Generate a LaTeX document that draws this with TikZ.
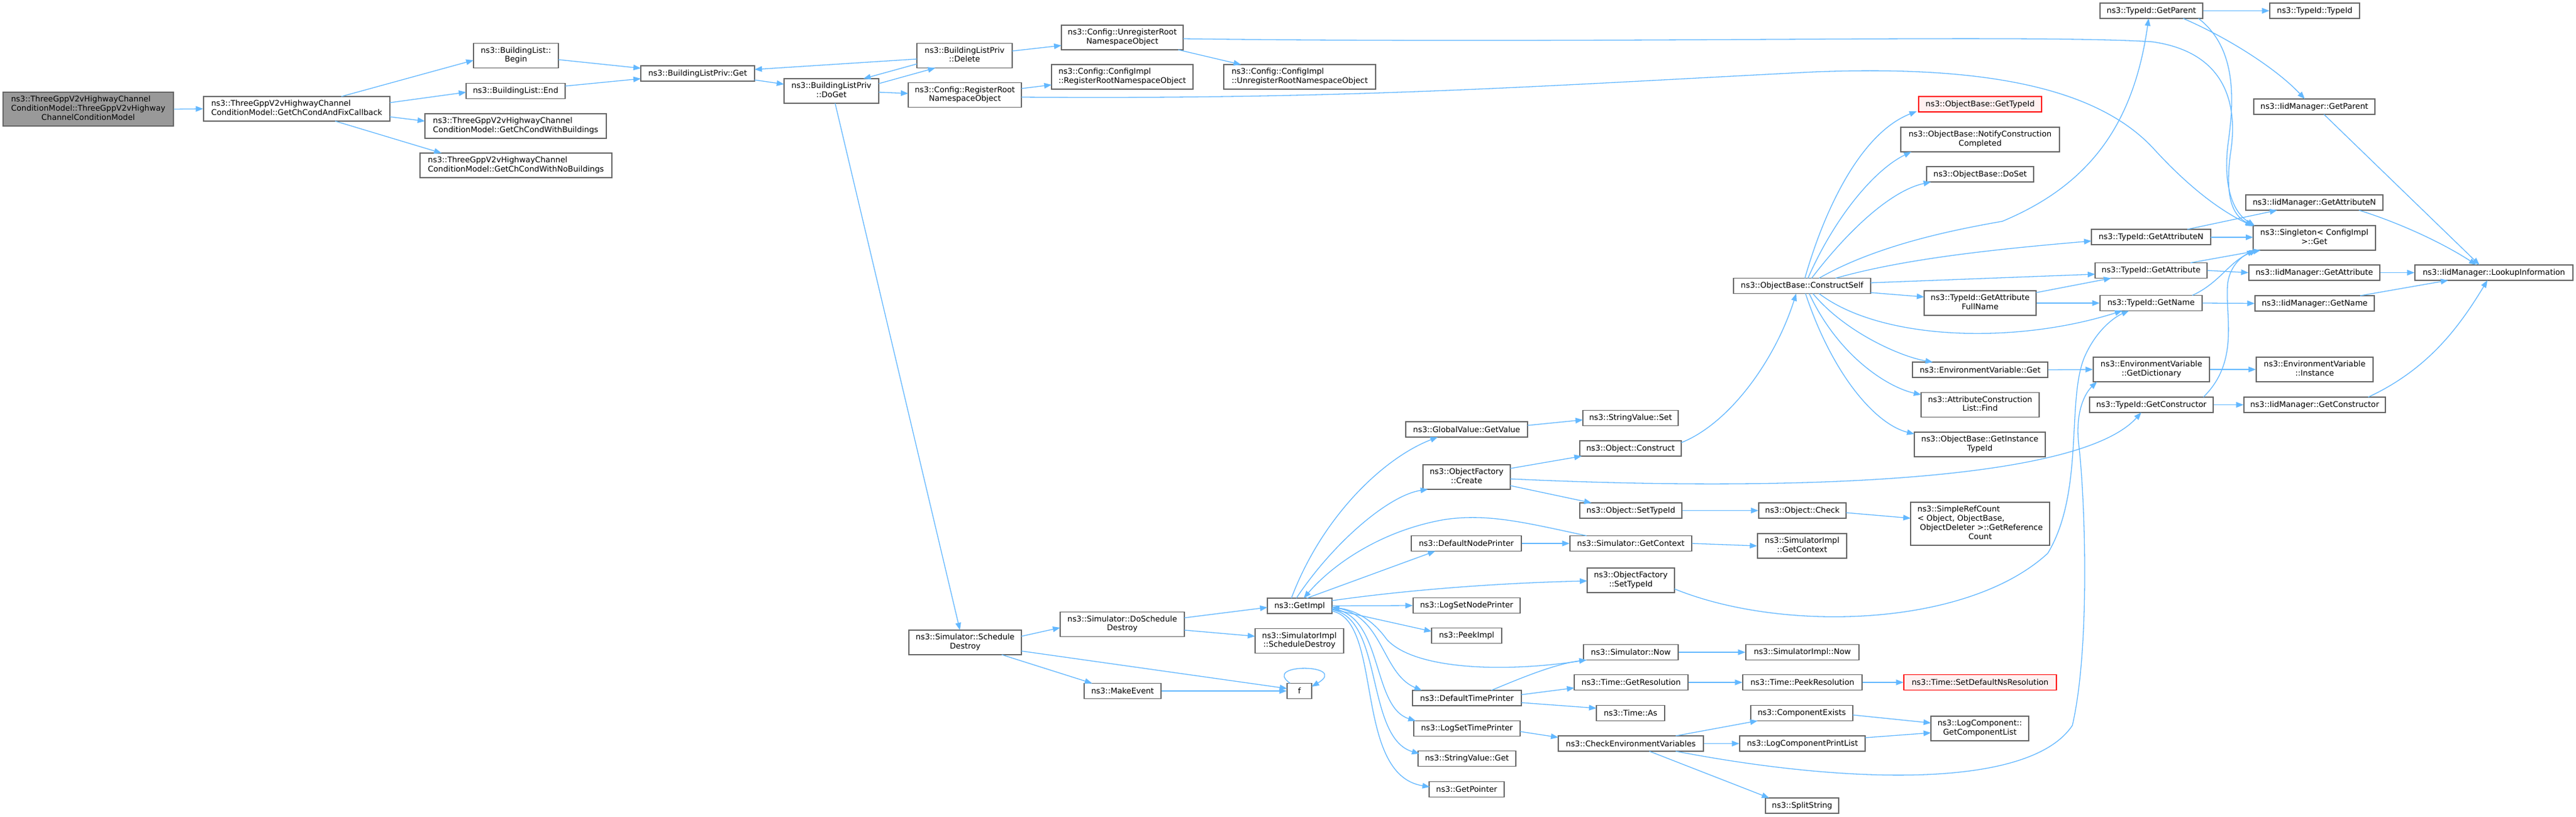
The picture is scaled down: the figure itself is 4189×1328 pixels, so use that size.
\documentclass[tikz,border=0pt]{standalone}
\usepackage{fontspec}
\setmainfont{DejaVu Sans}
\usetikzlibrary{arrows.meta}
\definecolor{edgeblue}{HTML}{63B8FF}
\definecolor{bordergray}{HTML}{666666}
\definecolor{rootfill}{HTML}{999999}
\definecolor{redborder}{HTML}{FF0000}
\definecolor{redfill}{HTML}{FFF0F0}
\newcommand\twol[2]{\begin{tabular}{@{}l@{}}#1\\\multicolumn{1}{@{}c@{}}{#2}\end{tabular}}
\newcommand\threel[3]{\begin{tabular}{@{}l@{}}#1\\#2\\\multicolumn{1}{@{}c@{}}{#3}\end{tabular}}
\newcommand\fourl[4]{\begin{tabular}{@{}l@{}}#1\\#2\\#3\\\multicolumn{1}{@{}c@{}}{#4}\end{tabular}}
\begin{document}
\begin{tikzpicture}[x=1pt,y=-1pt,
 nd/.style={draw=bordergray, fill=white, line width=1.2pt, inner sep=0pt, font=\fontsize{12.8}{14.7}\selectfont},
 oneline/.style={minimum height=25},
 twoline/.style={minimum height=40},
 redn/.style={draw=redborder, fill=redfill},
 rootn/.style={fill=rootfill},
 conn/.style={draw=edgeblue, line width=1.3pt, -{Triangle[length=12pt,width=9pt]}}]
\useasboundingbox (0,0) rectangle (4189,1328);
\fill[white] (0,0) rectangle (4189,1328);

\node[nd,rootn,minimum width=277,minimum height=55] (root) at (143.5,177.5) {\threel{ns3::ThreeGppV2vHighwayChannel}{ConditionModel::ThreeGppV2vHighway}{ChannelConditionModel}};
\node[nd,twoline,minimum width=303] (cb) at (482.5,177) {\twol{ns3::ThreeGppV2vHighwayChannel}{ConditionModel::GetChCondAndFixCallback}};
\node[nd,twoline,minimum width=138] (blbegin) at (839,90.5) {\twol{ns3::BuildingList::}{Begin}};
\node[nd,oneline,minimum width=161] (blend) at (838.5,148) {ns3::BuildingList::End};
\node[nd,twoline,minimum width=295] (withb) at (838.5,205) {\twol{ns3::ThreeGppV2vHighwayChannel}{ConditionModel::GetChCondWithBuildings}};
\node[nd,twoline,minimum width=312] (nob) at (839,269) {\twol{ns3::ThreeGppV2vHighwayChannel}{ConditionModel::GetChCondWithNoBuildings}};
\node[nd,oneline,minimum width=185] (privget) at (1134.5,119.5) {ns3::BuildingListPriv::Get};
\node[nd,twoline,minimum width=154] (doget) at (1352,148) {\twol{ns3::BuildingListPriv}{::DoGet}};
\node[nd,twoline,minimum width=155] (delete) at (1568.5,90.5) {\twol{ns3::BuildingListPriv}{::Delete}};
\node[nd,twoline,minimum width=184] (cfgreg) at (1569,154.5) {\twol{ns3::Config::RegisterRoot}{NamespaceObject}};
\node[nd,twoline,minimum width=198] (cfgunreg) at (1825,61) {\twol{ns3::Config::UnregisterRoot}{NamespaceObject}};
\node[nd,twoline,minimum width=230] (implreg) at (1825,125) {\twol{ns3::Config::ConfigImpl}{::RegisterRootNamespaceObject}};
\node[nd,twoline,minimum width=247] (implunreg) at (2113.5,125) {\twol{ns3::Config::ConfigImpl}{::UnregisterRootNamespaceObject}};
\node[nd,twoline,minimum width=183] (sched) at (1569.5,1045) {\twol{ns3::Simulator::Schedule}{Destroy}};
\node[nd,twoline,minimum width=202] (dosched) at (1825,1015.5) {\twol{ns3::Simulator::DoSchedule}{Destroy}};
\node[nd,oneline,minimum width=125] (makeevent) at (1825.5,1124) {ns3::MakeEvent};
\node[nd,oneline,minimum width=105] (getimpl) at (2113.5,985.5) {ns3::GetImpl};
\node[nd,twoline,minimum width=144] (implsched) at (2113,1042.5) {\twol{ns3::SimulatorImpl}{::ScheduleDestroy}};
\node[nd,oneline,minimum width=40] (f) at (2113,1124) {f};
\node[nd,oneline,minimum width=198] (gvget) at (2385,698.5) {ns3::GlobalValue::GetValue};
\node[nd,twoline,minimum width=142] (ofcreate) at (2385,776) {\twol{ns3::ObjectFactory}{::Create}};
\node[nd,oneline,minimum width=179] (defnode) at (2384.5,884) {ns3::DefaultNodePrinter};
\node[nd,oneline,minimum width=174] (logsetnode) at (2385,985) {ns3::LogSetNodePrinter};
\node[nd,oneline,minimum width=114] (peekimpl) at (2385,1034) {ns3::PeekImpl};
\node[nd,oneline,minimum width=177] (deftime) at (2385.5,1135.5) {ns3::DefaultTimePrinter};
\node[nd,oneline,minimum width=173] (logsettime) at (2385.5,1185) {ns3::LogSetTimePrinter};
\node[nd,oneline,minimum width=159] (svget) at (2385.5,1234) {ns3::StringValue::Get};
\node[nd,oneline,minimum width=122] (getptr) at (2385,1284) {ns3::GetPointer};
\node[nd,oneline,minimum width=155] (svset) at (2651.5,680) {ns3::StringValue::Set};
\node[nd,oneline,minimum width=165] (objconstruct) at (2651.5,729.5) {ns3::Object::Construct};
\node[nd,oneline,minimum width=166] (objsettid) at (2652,830.5) {ns3::Object::SetTypeId};
\node[nd,oneline,minimum width=198] (simctx) at (2652,884) {ns3::Simulator::GetContext};
\node[nd,twoline,minimum width=142] (ofsettid) at (2652,944) {\twol{ns3::ObjectFactory}{::SetTypeId}};
\node[nd,oneline,minimum width=154] (simnow) at (2652,1061) {ns3::Simulator::Now};
\node[nd,oneline,minimum width=185] (getres) at (2652.5,1110) {ns3::Time::GetResolution};
\node[nd,oneline,minimum width=111] (timeas) at (2651.5,1160) {ns3::Time::As};
\node[nd,oneline,minimum width=236] (checkenv) at (2652,1209.5) {ns3::CheckEnvironmentVariables};
\node[nd,oneline,minimum width=223] (construct) at (2930.5,465) {ns3::ObjectBase::ConstructSelf};
\node[nd,oneline,minimum width=142] (objcheck) at (2931,830.5) {ns3::Object::Check};
\node[nd,twoline,minimum width=145] (simimplctx) at (2930.5,888) {\twol{ns3::SimulatorImpl}{::GetContext}};
\node[nd,oneline,minimum width=184] (simimplnow) at (2931,1061) {ns3::SimulatorImpl::Now};
\node[nd,oneline,minimum width=194] (peekres) at (2931,1110) {ns3::Time::PeekResolution};
\node[nd,oneline,minimum width=166] (compexists) at (2930,1160) {ns3::ComponentExists};
\node[nd,oneline,minimum width=204] (logprint) at (2931,1209.5) {ns3::LogComponentPrintList};
\node[nd,oneline,minimum width=119] (split) at (2930.5,1310.5) {ns3::SplitString};
\node[nd,oneline,redn,minimum width=200] (obgettid) at (3220,169.5) {ns3::ObjectBase::GetTypeId};
\node[nd,twoline,minimum width=258] (notify) at (3220,227) {\twol{ns3::ObjectBase::NotifyConstruction}{Completed}};
\node[nd,oneline,minimum width=174] (doset) at (3220,283.5) {ns3::ObjectBase::DoSet};
\node[nd,twoline,minimum width=182] (fullname) at (3220,493) {\twol{ns3::TypeId::GetAttribute}{FullName}};
\node[nd,oneline,minimum width=220] (envget) at (3220,601.5) {ns3::EnvironmentVariable::Get};
\node[nd,twoline,minimum width=192] (acfind) at (3220,658.5) {\twol{ns3::AttributeConstruction}{List::Find}};
\node[nd,twoline,minimum width=213] (instid) at (3219.5,723) {\twol{ns3::ObjectBase::GetInstance}{TypeId}};
\node[nd,minimum width=226,minimum height=70] (refcount) at (3220,852) {\fourl{ns3::SimpleRefCount}{< Object, ObjectBase,}{\ ObjectDeleter >::GetReference}{Count}};
\node[nd,oneline,redn,minimum width=248] (setdefres) at (3220,1110) {ns3::Time::SetDefaultNsResolution};
\node[nd,twoline,minimum width=159] (complist) at (3219.5,1185) {\twol{ns3::LogComponent::}{GetComponentList}};
\node[nd,oneline,minimum width=167] (tidparent) at (3498.5,17.5) {ns3::TypeId::GetParent};
\node[nd,oneline,minimum width=194] (tidattrn) at (3498,385.5) {ns3::TypeId::GetAttributeN};
\node[nd,oneline,minimum width=182] (tidattr) at (3498,440) {ns3::TypeId::GetAttribute};
\node[nd,oneline,minimum width=166] (tidname) at (3498,493) {ns3::TypeId::GetName};
\node[nd,twoline,minimum width=189] (envdict) at (3498.5,601) {\twol{ns3::EnvironmentVariable}{::GetDictionary}};
\node[nd,oneline,minimum width=201] (tidctor) at (3498.5,658.5) {ns3::TypeId::GetConstructor};
\node[nd,oneline,minimum width=146] (tidtid) at (3764,17.5) {ns3::TypeId::TypeId};
\node[nd,oneline,minimum width=197] (iidparent) at (3763.5,173.5) {ns3::IidManager::GetParent};
\node[nd,oneline,minimum width=223] (iidattrn) at (3763.5,329.5) {ns3::IidManager::GetAttributeN};
\node[nd,twoline,minimum width=199] (singleton) at (3763.5,387) {\twol{ns3::Singleton< ConfigImpl}{>::Get}};
\node[nd,oneline,minimum width=213] (iidattr) at (3763.5,443.5) {ns3::IidManager::GetAttribute};
\node[nd,oneline,minimum width=194] (iidname) at (3764,493.5) {ns3::IidManager::GetName};
\node[nd,twoline,minimum width=190] (envinst) at (3764,601) {\twol{ns3::EnvironmentVariable}{::Instance}};
\node[nd,oneline,minimum width=230] (iidctor) at (3764,658.5) {ns3::IidManager::GetConstructor};
\node[nd,oneline,minimum width=257] (lookup) at (4055.5,443.5) {ns3::IidManager::LookupInformation};

% ---- connectors ----
\draw[conn] (root.east) -- (cb.west);
\draw[conn] ([shift={(72.5,-20)}]cb.center) -- ([shift={(-69,7.5)}]blbegin.center);
\draw[conn] ([shift={(151.5,-10)}]cb.center) -- ([shift={(-80.5,2)}]blend.center);
\draw[conn] ([shift={(151.5,13)}]cb.center) -- ([shift={(-147.5,-8)}]withb.center);
\draw[conn] ([shift={(62.5,20)}]cb.center) -- ([shift={(-121,-20)}]nob.center);
\draw[conn] ([shift={(69,6.5)}]blbegin.center) -- ([shift={(-92.5,-8.5)}]privget.center);
\draw[conn] ([shift={(80.5,-8)}]blend.center) -- ([shift={(-92.5,8.5)}]privget.center);
\draw[conn] ([shift={(92.5,10.5)}]privget.center) -- ([shift={(-77,-11)}]doget.center);
\draw[conn] ([shift={(77,-12)}]doget.center) -- ([shift={(-47.5,20)}]delete.center);
\draw[conn] ([shift={(-77.5,13.5)}]delete.center) -- ([shift={(52,-20)}]doget.center);
\draw[conn] ([shift={(-77.5,5.5)}]delete.center) -- ([shift={(92.5,-6.5)}]privget.center);
\draw[conn] ([shift={(77,2)}]doget.center) -- ([shift={(-92,-2.5)}]cfgreg.center);
\draw[conn] ([shift={(6,20)}]doget.center) -- ([shift={(-8.5,-20)}]sched.center);
\draw[conn] ([shift={(77.5,-7.5)}]delete.center) -- ([shift={(-99,13)}]cfgunreg.center);
\draw[conn] ([shift={(91,20)}]cfgunreg.center) -- ([shift={(-95.5,-20)}]implunreg.center);
\draw[conn] ([shift={(99,2)}]cfgunreg.center) .. controls (2600,72) and (3300,55) .. (3500,68) .. controls (3620,85) and (3640,170) .. (3627,250) .. controls (3618,320) and (3630,350) .. ([shift={(-100,-20)}]singleton.center);
\draw[conn] ([shift={(92,-10.5)}]cfgreg.center) -- ([shift={(-115,13)}]implreg.center);
\draw[conn] ([shift={(92,3.5)}]cfgreg.center) .. controls (2200,162) and (2500,140) .. (2950,117) .. controls (3250,105) and (3420,150) .. (3505,245) .. controls (3565,310) and (3615,345) .. ([shift={(-99.5,-19)}]singleton.center);
\draw[conn] ([shift={(91.5,-10)}]sched.center) -- ([shift={(-101,5.5)}]dosched.center);
\draw[conn] ([shift={(59.5,20)}]sched.center) -- ([shift={(-49.5,-12.5)}]makeevent.center);
\draw[conn] ([shift={(91.5,14)}]sched.center) -- ([shift={(-20,-4)}]f.center);
\draw[conn] (makeevent.east) -- (f.west);
\draw[conn] ([shift={(-15,-12.5)}]f.center) .. controls (2050,1078) and (2195,1080) .. ([shift={(20,-7)}]f.center);
\draw[conn] ([shift={(101,-10.5)}]dosched.center) -- ([shift={(-52.5,2.5)}]getimpl.center);
\draw[conn] ([shift={(101,9.5)}]dosched.center) -- ([shift={(-72,-7.5)}]implsched.center);
\draw[conn] ([shift={(-13.5,-12.5)}]getimpl.center) .. controls (2150,840) and (2250,745) .. ([shift={(-47,12.5)}]gvget.center);
\draw[conn] ([shift={(-5.5,-12.5)}]getimpl.center) .. controls (2170,880) and (2260,805) .. ([shift={(-63,20)}]ofcreate.center);
\draw[conn] ([shift={(-72,-12.5)}]simctx.center) .. controls (2480,850) and (2420,835) .. (2350,845) .. controls (2250,862) and (2170,915) .. ([shift={(6.5,-12.5)}]getimpl.center);
\draw[conn] ([shift={(11.5,-12.5)}]getimpl.center) -- ([shift={(-50.5,12.5)}]defnode.center);
\draw[conn] (defnode.east) -- (simctx.west);
\draw[conn] ([shift={(52.5,-8.5)}]getimpl.center) .. controls (2300,958) and (2450,948) .. ([shift={(-71,1)}]ofsettid.center);
\draw[conn] (getimpl.east) -- (logsetnode.west);
\draw[conn] ([shift={(52.5,5.5)}]getimpl.center) -- ([shift={(-57,-7)}]peekimpl.center);
\draw[conn] ([shift={(-72,12.5)}]simnow.center) .. controls (2450,1095) and (2300,1090) .. (2255,1040) .. controls (2230,1005) and (2200,992) .. ([shift={(52.5,2.5)}]getimpl.center);
\draw[conn] ([shift={(39.5,-12.5)}]deftime.center) .. controls (2480,1100) and (2530,1080) .. ([shift={(-72,12.5)}]simnow.center);
\draw[conn] ([shift={(52.5,2.5)}]getimpl.center) .. controls (2250,995) and (2245,1095) .. ([shift={(-73.5,-12.5)}]deftime.center);
\draw[conn] ([shift={(52.5,4.5)}]getimpl.center) .. controls (2250,1000) and (2230,1150) .. ([shift={(-83.5,-12.5)}]logsettime.center);
\draw[conn] ([shift={(52.5,6.5)}]getimpl.center) .. controls (2250,1005) and (2220,1200) .. ([shift={(-77.5,-8)}]svget.center);
\draw[conn] ([shift={(52.5,8.5)}]getimpl.center) .. controls (2250,1010) and (2200,1260) .. ([shift={(-60,-4)}]getptr.center);
\draw[conn] ([shift={(88.5,-5.5)}]deftime.center) -- ([shift={(-92.5,9)}]getres.center);
\draw[conn] ([shift={(88.5,7.5)}]deftime.center) -- ([shift={(-55.5,-8)}]timeas.center);
\draw[conn] ([shift={(86.5,5)}]logsettime.center) -- ([shift={(-118,-10)}]checkenv.center);
\draw[conn] ([shift={(99,-6.5)}]gvget.center) -- ([shift={(-77.5,3)}]svset.center);
\draw[conn] ([shift={(71,-14)}]ofcreate.center) -- ([shift={(-79.5,12.5)}]objconstruct.center);
\draw[conn] ([shift={(71,3)}]ofcreate.center) .. controls (2900,800) and (3380,785) .. ([shift={(-16.5,12.5)}]tidctor.center);
\draw[conn] ([shift={(71,14)}]ofcreate.center) -- ([shift={(-64,-12.5)}]objsettid.center);
\draw[conn] ([shift={(82.5,-9.5)}]objconstruct.center) .. controls (2810,690) and (2885,590) .. ([shift={(-9.5,12.5)}]construct.center);
\draw[conn] (objsettid.east) -- (objcheck.west);
\draw[conn] ([shift={(71,3.5)}]objcheck.center) -- ([shift={(-113,-9)}]refcount.center);
\draw[conn] (simctx.east) -- (simimplctx.west);
\draw[conn] (simnow.east) -- (simimplnow.west);
\draw[conn] (getres.east) -- (peekres.west);
\draw[conn] (peekres.east) -- (setdefres.west);
\draw[conn] ([shift={(73,-12.5)}]checkenv.center) -- ([shift={(-72,12.5)}]compexists.center);
\draw[conn] (checkenv.east) -- (logprint.west);
\draw[conn] ([shift={(30,12.5)}]checkenv.center) -- ([shift={(-53.5,-12.5)}]split.center);
\draw[conn] ([shift={(73,12.5)}]checkenv.center) .. controls (3000,1275) and (3300,1285) .. (3370,1180) .. controls (3400,1050) and (3390,800) .. (3380,720) .. controls (3375,670) and (3390,640) .. ([shift={(-88.5,20)}]envdict.center);
\draw[conn] ([shift={(71,14)}]ofsettid.center) .. controls (2900,1030) and (3200,1020) .. (3330,900) .. controls (3390,800) and (3360,650) .. (3390,580) .. controls (3410,535) and (3440,515) .. ([shift={(-36,12.5)}]tidname.center);
\draw[conn] ([shift={(83,3)}]compexists.center) -- ([shift={(-79.5,-9)}]complist.center);
\draw[conn] ([shift={(102,-9.5)}]logprint.center) -- ([shift={(-79.5,7)}]complist.center);
\draw[conn] ([shift={(4.5,-12.5)}]construct.center) .. controls (2970,330) and (3030,215) .. ([shift={(-103,11.5)}]obgettid.center);
\draw[conn] ([shift={(9.5,-12.5)}]construct.center) .. controls (2985,350) and (3050,275) .. ([shift={(-112,20)}]notify.center);
\draw[conn] ([shift={(15.5,-12.5)}]construct.center) .. controls (3005,375) and (3075,310) .. ([shift={(-80,12.5)}]doset.center);
\draw[conn] ([shift={(27.5,-12.5)}]construct.center) .. controls (3050,400) and (3170,375) .. (3256,360) .. controls (3400,300) and (3470,200) .. ([shift={(-4.5,12.5)}]tidparent.center);
\draw[conn] ([shift={(54.5,-12.5)}]construct.center) .. controls (3100,420) and (3250,405) .. ([shift={(-97,6.5)}]tidattrn.center);
\draw[conn] ([shift={(111.5,-5)}]construct.center) -- ([shift={(-91,6)}]tidattr.center);
\draw[conn] ([shift={(111.5,11)}]construct.center) -- ([shift={(-91,-10)}]fullname.center);
\draw[conn] ([shift={(27.5,12.5)}]construct.center) .. controls (3060,555) and (3280,560) .. ([shift={(-47,12.5)}]tidname.center);
\draw[conn] ([shift={(17.5,12.5)}]construct.center) .. controls (3000,540) and (3090,580) .. ([shift={(-77,-12.5)}]envget.center);
\draw[conn] ([shift={(11.5,12.5)}]construct.center) .. controls (2990,580) and (3070,630) .. ([shift={(-96,-16.5)}]acfind.center);
\draw[conn] ([shift={(5.5,12.5)}]construct.center) .. controls (2980,610) and (3050,690) .. ([shift={(-106.5,-17)}]instid.center);
\draw[conn] ([shift={(91,-17)}]fullname.center) -- ([shift={(-65,12.5)}]tidattr.center);
\draw[conn] (fullname.east) -- (tidname.west);
\draw[conn] (tidparent.east) -- (tidtid.west);
\draw[conn] ([shift={(51.5,12.5)}]tidparent.center) .. controls (3620,60) and (3700,110) .. ([shift={(-15.5,-12.5)}]iidparent.center);
\draw[conn] ([shift={(76.5,12.5)}]tidparent.center) .. controls (3640,80) and (3632,170) .. (3623,235) .. controls (3615,300) and (3630,345) .. ([shift={(-97,-20)}]singleton.center);
\draw[conn] ([shift={(59,-12.5)}]tidattrn.center) -- ([shift={(-60.5,12.5)}]iidattrn.center);
\draw[conn] ([shift={(97,0.5)}]tidattrn.center) -- ([shift={(-99.5,-1)}]singleton.center);
\draw[conn] ([shift={(64,-12.5)}]tidattr.center) -- ([shift={(-87.5,20)}]singleton.center);
\draw[conn] (tidattr.east) -- (iidattr.west);
\draw[conn] ([shift={(67,-12.5)}]tidname.center) .. controls (3610,460) and (3625,425) .. ([shift={(-93.5,20)}]singleton.center);
\draw[conn] (tidname.east) -- (iidname.west);
\draw[conn] (tidctor.east) -- (iidctor.west);
\draw[conn] ([shift={(84.5,-12.5)}]tidctor.center) .. controls (3640,590) and (3620,520) .. (3622,470) .. controls (3622,440) and (3640,420) .. ([shift={(-97.5,20)}]singleton.center);
\draw[conn] (envget.east) -- (envdict.west);
\draw[conn] (envdict.east) -- (envinst.west);
\draw[conn] ([shift={(15.5,12.5)}]iidparent.center) -- ([shift={(-23.5,-12.5)}]lookup.center);
\draw[conn] ([shift={(72.5,12.5)}]iidattrn.center) .. controls (3910,365) and (3980,400) .. ([shift={(-28.5,-12.5)}]lookup.center);
\draw[conn] (iidattr.east) -- (lookup.west);
\draw[conn] ([shift={(74,-12.5)}]iidname.center) -- ([shift={(-74.5,12.5)}]lookup.center);
\draw[conn] ([shift={(87,-12.5)}]iidctor.center) .. controls (3950,600) and (4000,530) .. ([shift={(-10.5,12.5)}]lookup.center);
\end{tikzpicture}
\end{document}
